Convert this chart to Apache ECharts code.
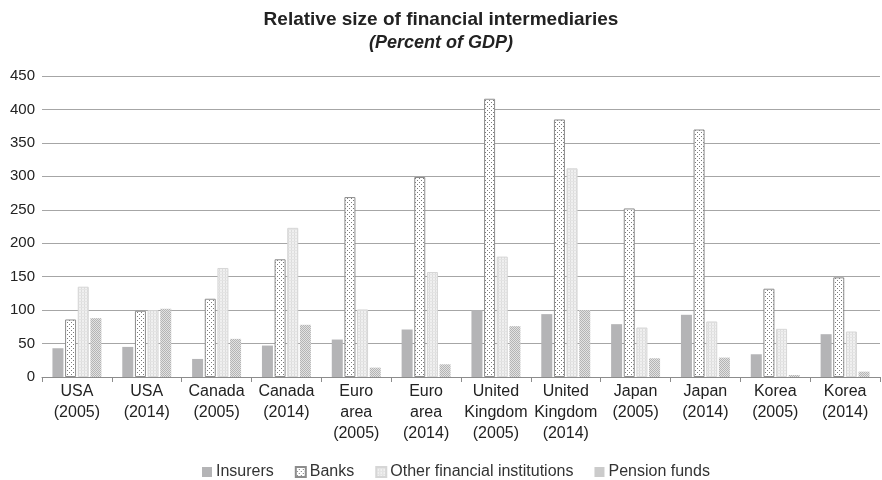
<!DOCTYPE html>
<html><head><meta charset="utf-8">
<script src="https://cdn.jsdelivr.net/npm/echarts@6/dist/echarts.min.js"></script>
<style>html,body{margin:0;padding:0;background:#fff}#c{width:882px;height:480px}</style>
</head><body><div id="c"></div>
<script>
const categories = ['USA\n(2005)','USA\n(2014)','Canada\n(2005)','Canada\n(2014)','Euro\narea\n(2005)','Euro\narea\n(2014)','United\nKingdom\n(2005)','United\nKingdom\n(2014)','Japan\n(2005)','Japan\n(2014)','Korea\n(2005)','Korea\n(2014)'];
const insurers = [43, 45, 27, 47, 56, 71, 100, 94, 79, 93, 34, 64];
const banks    = [86, 99, 117, 176, 269, 299, 416, 385, 252, 370, 132, 149];
const others   = [135, 100, 163, 223, 101, 157, 180, 312, 74, 83, 72, 68];
const pension  = [88, 102, 57, 78, 14, 19, 76, 100, 28, 29, 3, 8];
const yTicks = [0, 50, 100, 150, 200, 250, 300, 350, 400, 450];

function makePattern(w, h, bg, draw) {
  const c = document.createElement('canvas');
  c.width = w; c.height = h;
  const g = c.getContext('2d');
  g.fillStyle = bg; g.fillRect(0, 0, w, h);
  draw(g);
  return { image: c, repeat: 'repeat' };
}
const banksPat = makePattern(4, 4, '#ffffff', g => {
  g.fillStyle = '#7a7a7a';
  g.fillRect(1, 0, 1, 1);
  g.fillRect(3, 2, 1, 1);
});
const otherPat = makePattern(3, 3, '#f0f0f0', g => {
  g.fillStyle = '#dcdcdc';
  g.fillRect(0, 0, 1, 3);
  g.fillStyle = '#e4e4e4';
  g.fillRect(0, 1, 3, 1);
});
const pensionPat = makePattern(2, 2, '#e2e2e2', g => {
  g.fillStyle = '#b4b4b4';
  g.fillRect(0, 0, 1, 1);
  g.fillRect(1, 1, 1, 1);
});

const font = "'Liberation Sans', Arial, sans-serif";
const chart = echarts.init(document.getElementById('c'), null, { renderer: 'canvas' });
chart.setOption({
  animation: false,
  backgroundColor: '#ffffff',
  textStyle: { fontFamily: font },
  title: {
    text: 'Relative size of financial intermediaries',
    subtext: '(Percent of GDP)',
    left: 'center', top: 5, itemGap: 5,
    textStyle: { fontFamily: font, fontSize: 19, fontWeight: 'bold', color: '#222' },
    subtextStyle: { fontFamily: font, fontSize: 18, fontWeight: 'bold', fontStyle: 'italic', color: '#222' }
  },
  legend: {
    top: 459, left: 197, itemWidth: 10, itemHeight: 10, itemGap: 21,
    icon: 'rect',
    textStyle: { fontFamily: font, fontSize: 16, color: '#333', padding: [0, 0, 0, -1] },
    data: ['Insurers', 'Banks', 'Other financial institutions', 'Pension funds']
  },
  grid: { left: 42, right: 2, top: 76, bottom: 103, containLabel: false },
  xAxis: {
    type: 'category', data: categories,
    axisLine: { lineStyle: { color: '#8c8c8c', width: 1 } },
    axisTick: { show: true, length: 5, lineStyle: { color: '#8c8c8c' } },
    axisLabel: { fontFamily: font, fontSize: 16, color: '#222', lineHeight: 21, margin: 4, interval: 0 }
  },
  yAxis: {
    type: 'value', min: 0, max: 450, interval: 50,
    axisLine: { show: false }, axisTick: { show: false },
    splitLine: { lineStyle: { color: '#a6a6a6', width: 1 } },
    axisLabel: { fontFamily: font, fontSize: 15, color: '#222', margin: 7,
      formatter: v => yTicks.includes(v) ? String(v) : '' }
  },
  series: [
    { name: 'Insurers', type: 'bar', data: insurers, barWidth: 11, barGap: '15%',
      itemStyle: { color: '#b4b4b6' } },
    { name: 'Banks', type: 'bar', data: banks, barWidth: 11,
      itemStyle: { color: banksPat, borderColor: '#8c8c8c', borderWidth: 1 } },
    { name: 'Other financial institutions', type: 'bar', data: others, barWidth: 11,
      itemStyle: { color: otherPat, borderColor: '#d6d6d6', borderWidth: 1 } },
    { name: 'Pension funds', type: 'bar', data: pension, barWidth: 11,
      itemStyle: { color: pensionPat } }
  ]
});
</script></body></html>
